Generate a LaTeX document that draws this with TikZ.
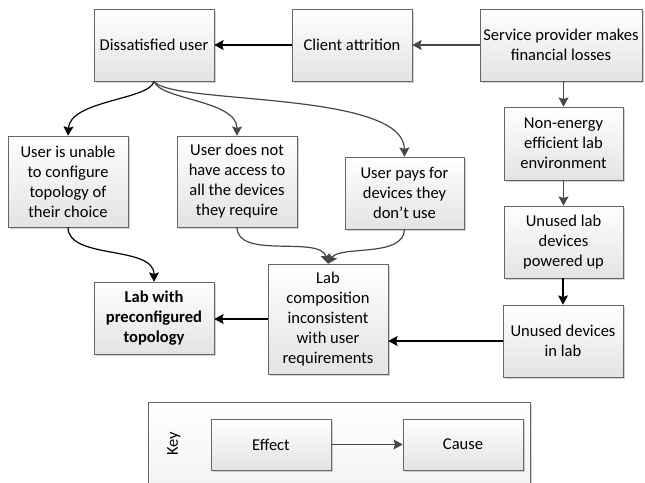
\documentclass[tikz,border=0pt]{standalone}
\usepackage{fontspec}
\setmainfont{Carlito}
\usetikzlibrary{arrows.meta,shadows}
\begin{document}
\begin{tikzpicture}[x=0.75pt,y=-0.75pt,
 box/.style={draw=black!60, top color=white, bottom color=black!11, align=center, inner sep=1pt,
   font=\fontsize{12.4}{15}\selectfont,
   drop shadow={shadow xshift=1.5pt,shadow yshift=-1.5pt,fill=black!35,opacity=0.5}},
 arr/.style={-{Stealth[length=7pt,width=7.5pt,inset=1.2pt]}, line width=0.9pt},
 blk/.style={arr,draw=black},
 gry/.style={arr,draw=black!72},
]
\useasboundingbox (0,0) rectangle (645,482);
% boxes
\node[box, minimum width=90pt, minimum height=54pt] (du) at (154,45) {Dissatisfied user};
\node[box, minimum width=90pt, minimum height=54pt] (ca) at (352,45) {Client attrition};
\node[box, minimum width=121.5pt, minimum height=54pt] (sp) at (561,45) {Service provider makes\\financial losses};
\node[box, minimum width=89.25pt, minimum height=54.75pt] (ne) at (563.5,143.5) {Non-energy\\efficient lab\\environment};
\node[box, minimum width=89.25pt, minimum height=54pt] (ul) at (563.5,242) {Unused lab\\devices\\powered up};
\node[box, minimum width=90pt, minimum height=54pt] (ud) at (563,341) {Unused devices\\in lab};
\node[box, minimum width=90pt, minimum height=68.25pt] (ui) at (68,181.5) {User is unable\\to configure\\topology of\\their choice};
\node[box, minimum width=90pt, minimum height=68.25pt] (ua) at (237,181.5) {User does not\\have access to\\all the devices\\they require};
\node[box, minimum width=89.25pt, minimum height=54pt] (up) at (404.5,193) {User pays for\\devices they\\don’t use};
\node[box, minimum width=90pt, minimum height=54pt, font=\fontsize{12.4}{15}\selectfont\bfseries] (lp) at (154,318) {Lab with\\preconfigured\\topology};
\node[box, minimum width=90pt, minimum height=82.5pt] (lc) at (328,319) {Lab\\composition\\inconsistent\\with user\\requirements};
% key
\draw[draw=black!60, top color=white, bottom color=black!6, drop shadow={shadow xshift=1.5pt,shadow yshift=-1.5pt,fill=black!35,opacity=0.5}] (148,402) rectangle (530,510);
\node[rotate=90, font=\fontsize{12.4}{15}\selectfont] (key) at (174,444) {Key};
\node[box, minimum width=90pt, minimum height=38.25pt] (ef) at (271,444.5) {Effect};
\node[box, minimum width=90pt, minimum height=38.25pt] (cs) at (463,444.5) {Cause};
% connectors
\draw[blk] (ca.west) -- (du.east);
\draw[gry] (sp.west) -- (ca.east);
\draw[gry] (ne.north |- sp.south) -- (ne.north);
\draw[gry] (ne.south) -- (ul.north);
\draw[blk] (ul.south -| ud.north) -- (ud.north);
\draw[blk] (ud.west) -- (ud.west -| lc.east);
\draw[blk] (lc.west) -- (lc.west -| lp.east);
\draw[blk] (du.south) .. controls (150,100) and (70,100) .. (ui.north);
\draw[gry] (du.south) .. controls (160,100) and (237,100) .. (ua.north);
\draw[gry] (du.south) .. controls (170,105) and (404,90) .. (up.north);
\draw[blk] (ui.south) .. controls (68,260) and (154,245) .. (lp.north);
\draw[gry] (ua.south) .. controls (237,260) and (320,235) .. (lc.north);
\draw[gry] (up.south) .. controls (404,258) and (340,245) .. (lc.north);
\draw[gry] (ef.east) -- (cs.west);
\end{tikzpicture}
\end{document}
